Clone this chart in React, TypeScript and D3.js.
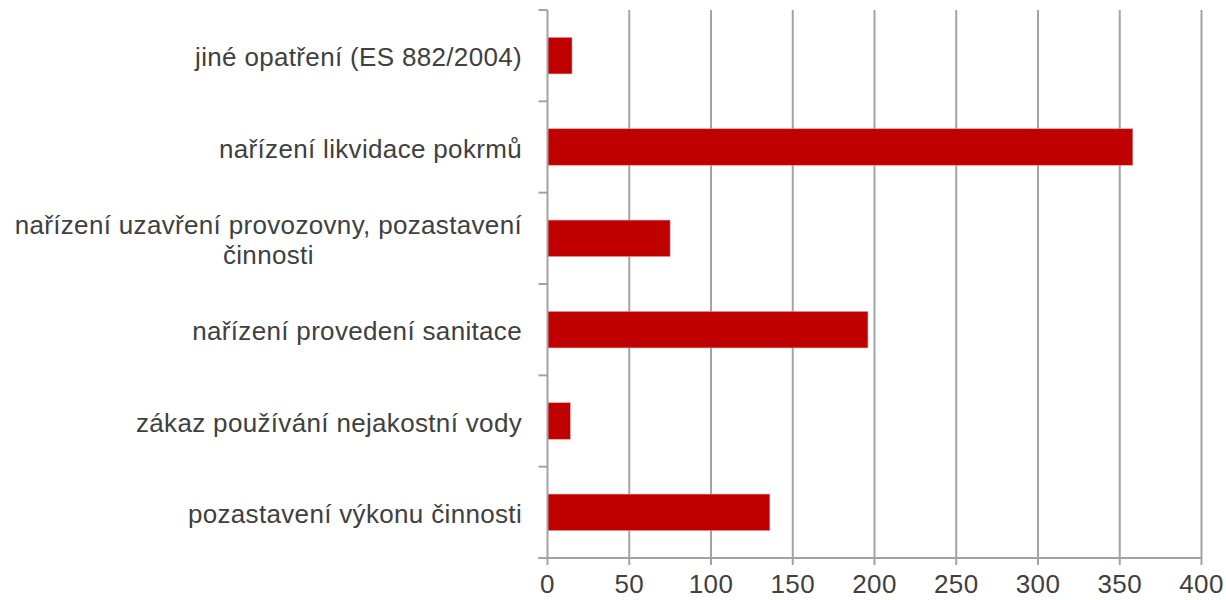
import React, { useEffect, useRef } from "react";
import * as d3 from "d3";

const categories = [
  "jiné opatření (ES 882/2004)",
  "nařízení likvidace pokrmů",
  "nařízení uzavření provozovny, pozastavení činnosti",
  "nařízení provedení sanitace",
  "zákaz používání nejakostní vody",
  "pozastavení výkonu činnosti",
];
const values = [15, 358, 75, 196, 14, 136];
const xTicks = [0, 50, 100, 150, 200, 250, 300, 350, 400];
// manual line breaks for wrapped category labels
const labelBreaks: Record<string, string[]> = {
  "nařízení uzavření provozovny, pozastavení činnosti": [
    "nařízení uzavření provozovny, pozastavení",
    "činnosti",
  ],
};

const W = 1226;
const H = 600;
const M = { left: 547.5, right: 1201.5, top: 10, bottom: 558 };
const TEXT = "#404040";
const GRID = "#a3a3a3";
const BAR = "#c00000";
const FONT = "'Liberation Sans', Arial, sans-serif";
const FS = 26;

export default function App() {
  const ref = useRef<SVGSVGElement>(null);

  useEffect(() => {
    const svg = d3.select(ref.current);
    svg.selectAll("*").remove();

    const x = d3.scaleLinear().domain([0, 400]).range([M.left, M.right]);
    const y = d3
      .scaleBand<string>()
      .domain(categories)
      .range([M.top, M.bottom])
      .paddingInner(0.6)
      .paddingOuter(0.3);
    const step = y.step();

    const g = svg.append("g");

    // gridlines
    g.selectAll("line.grid")
      .data(xTicks.filter((t) => t > 0))
      .join("line")
      .attr("x1", (d) => x(d))
      .attr("x2", (d) => x(d))
      .attr("y1", M.top)
      .attr("y2", M.bottom)
      .attr("stroke", GRID)
      .attr("stroke-width", 2);

    // bars
    g.selectAll("rect.bar")
      .data(categories)
      .join("rect")
      .attr("x", x(0))
      .attr("y", (d) => y(d)!)
      .attr("width", (d, i) => x(values[i]) - x(0))
      .attr("height", y.bandwidth())
      .attr("fill", BAR)
      .attr("stroke", "#e8a0a0")
      .attr("stroke-width", 0.6);

    // left axis
    g.append("line")
      .attr("x1", M.left)
      .attr("x2", M.left)
      .attr("y1", M.top)
      .attr("y2", M.bottom)
      .attr("stroke", GRID)
      .attr("stroke-width", 2);
    const boundaries = d3.range(categories.length + 1).map((i) => M.top + i * step);
    g.selectAll("line.ytick")
      .data(boundaries)
      .join("line")
      .attr("x1", M.left - 9)
      .attr("x2", M.left)
      .attr("y1", (d) => d)
      .attr("y2", (d) => d)
      .attr("stroke", GRID)
      .attr("stroke-width", 2);

    // bottom axis
    g.append("line")
      .attr("x1", M.left - 9)
      .attr("x2", M.right)
      .attr("y1", M.bottom)
      .attr("y2", M.bottom)
      .attr("stroke", GRID)
      .attr("stroke-width", 2);
    g.selectAll("line.xtick")
      .data(xTicks)
      .join("line")
      .attr("x1", (d) => x(d))
      .attr("x2", (d) => x(d))
      .attr("y1", M.bottom)
      .attr("y2", M.bottom + 7)
      .attr("stroke", GRID)
      .attr("stroke-width", 2);

    g.selectAll("text.xlabel")
      .data(xTicks)
      .join("text")
      .attr("x", (d) => x(d))
      .attr("y", 593)
      .attr("text-anchor", "middle")
      .attr("font-family", FONT)
      .attr("font-size", FS)
      .attr("letter-spacing", 0.33)
      .attr("fill", TEXT)
      .text((d) => String(d));

    // category labels
    const labelRight = 522;
    categories.forEach((c) => {
      const lines = labelBreaks[c] || [c];
      const cy = y(c)! + y.bandwidth() / 2;
      const lh = 30;
      const base = cy + 10.5 - ((lines.length - 1) * lh) / 2;
      const first = g
        .append("text")
        .attr("x", labelRight)
        .attr("y", base)
        .attr("text-anchor", "end")
        .attr("font-family", FONT)
        .attr("font-size", FS)
        .attr("letter-spacing", 0.33)
        .attr("fill", TEXT)
        .text(lines[0]);
      if (lines.length > 1) {
        const w = (first.node() as SVGTextElement).getComputedTextLength();
        const mid = labelRight - w / 2;
        lines.slice(1).forEach((ln, k) => {
          g.append("text")
            .attr("x", mid)
            .attr("y", base + (k + 1) * lh)
            .attr("text-anchor", "middle")
            .attr("font-family", FONT)
            .attr("font-size", FS)
            .attr("letter-spacing", 0.33)
            .attr("fill", TEXT)
            .text(ln);
        });
      }
    });
  }, []);

  return (
    <svg
      ref={ref}
      width={W}
      height={H}
      style={{ position: "absolute", left: 0, top: 0, background: "#fff" }}
    />
  );
}
